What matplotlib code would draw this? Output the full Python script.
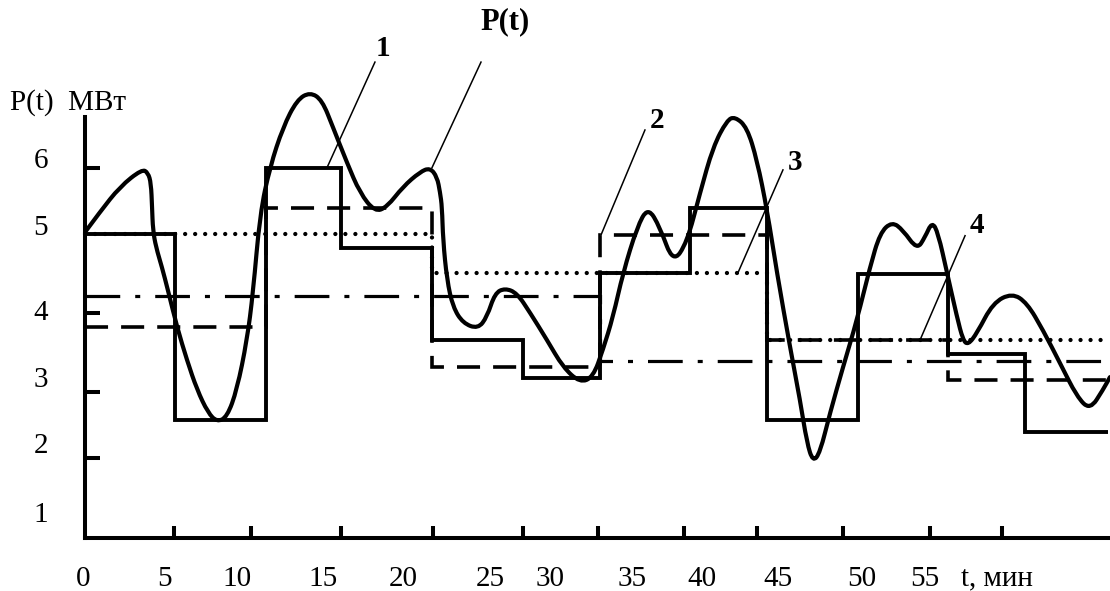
import matplotlib
matplotlib.use("Agg")
import matplotlib.pyplot as plt
from matplotlib.path import Path
from matplotlib.patches import PathPatch

plt.rcParams["font.family"] = ["Liberation Serif", "DejaVu Serif"]
plt.rcParams["lines.scale_dashes"] = False

# P(t) curve, t in min, P in MW
t_curve = [0, 1.0, 2.33, 3.8, 4.2, 4.4, 4.47, 4.53, 4.73, 5.13, 5.53, 6.13, 6.8, 7.47, 8.2, 8.8,
           9.47, 10.13, 10.8, 11.2, 11.67, 12.33, 13.2, 14.13, 15.0, 15.8, 16.53, 17.47, 18.33,
           19.33, 20.13, 21.2, 22.33, 23.0, 23.47, 23.67, 23.8, 23.87, 24.13, 24.53, 25.2, 26.2,
           26.8, 27.33, 28.0, 28.8, 29.67, 30.8, 31.87, 33.0, 33.87, 34.53, 35.2, 35.87, 36.8,
           37.53, 38.33, 39.2, 40.13, 41.0, 41.87, 42.8, 43.33, 44.13, 44.8, 45.47, 46.13, 47.0,
           47.67, 48.13, 48.53, 49.0, 49.67, 50.53, 51.47, 52.33, 53.0, 53.8, 54.53, 55.47, 56.0,
           56.47, 56.87, 57.47, 58.13, 58.53, 58.87, 59.47, 60.53, 61.8, 62.8, 63.87, 65.0, 66.13,
           67.0, 67.87, 68.33]
p_curve = [5.04, 5.33, 5.69, 5.94, 5.89, 5.74, 5.4, 5.07, 4.83, 4.54, 4.21, 3.69, 3.21, 2.79, 2.46,
           2.33, 2.4, 2.79, 3.5, 4.17, 5.31, 5.97, 6.54, 6.93, 7.04, 6.93, 6.54, 6.03, 5.6, 5.33,
           5.4, 5.69, 5.9, 5.96, 5.83, 5.61, 5.4, 4.93, 4.36, 3.97, 3.74, 3.66, 3.83, 4.17, 4.24,
           4.17, 3.89, 3.5, 3.11, 2.89, 2.97, 3.36, 3.83, 4.46, 5.11, 5.4, 5.11, 4.6, 4.89, 5.6,
           6.26, 6.64, 6.69, 6.54, 6.07, 5.36, 4.46, 3.4, 2.64, 2.03, 1.76, 1.89, 2.46, 3.11, 3.79,
           4.54, 5.03, 5.19, 5.07, 4.79, 4.97, 5.19, 5.03, 4.46, 3.83, 3.5, 3.43, 3.6, 4.03, 4.17,
           4.03, 3.64, 3.17, 2.69, 2.5, 2.79, 2.97]

# 1: solid staircase
edges1 = [0, 6.0, 12.07, 17.07, 23.13, 29.2, 34.33, 40.33, 45.47, 51.53, 57.53, 62.67, 68.2]
vals1 = [5.01, 2.36, 5.96, 4.81, 3.5, 2.96, 4.46, 5.39, 2.36, 4.44, 3.3, 2.19]
# 2: dashed
edges2 = [0, 12.07, 23.13, 34.33, 45.47, 57.53, 68.2]
vals2 = [3.69, 5.39, 3.11, 5.0, 3.5, 2.93]
# 3: dotted
edges3 = [0, 23.13, 45.47, 68.2]
vals3 = [5.01, 4.46, 3.5]
# 4: dash-dot
edges4 = [0, 34.33, 68.2]
vals4 = [4.13, 3.2]

x_ticks = [5.93, 11.07, 17.07, 23.2, 29.2, 34.2, 39.93, 44.8, 50.53, 56.33, 61.13]
x_lab_pos = [-0.13, 5.33, 10.13, 15.87, 21.2, 27.0, 31.0, 36.47, 41.13, 46.2, 51.8, 56.0, 60.8]
x_labels = ["0", "5", "10", "15", "20", "25", "30", "35", "40", "45", "50", "55", "t, мин"]
y_ticks = [5.96, 3.89, 2.76, 1.81]
y_lab_pos = [6.1, 5.14, 3.93, 2.97, 2.03, 1.04]
y_labels = ["6", "5", "4", "3", "2", "1"]

fig = plt.figure(figsize=(11.1, 5.91), dpi=100)
ax = fig.add_axes([0, 0, 1, 1])
ax.set_xlim(-5.667, 68.333)
ax.set_ylim(-0.0857, 8.357)

k = "black"
ax.stairs(vals3, edges3, baseline=None, color=k, lw=3.1, linestyle=(0, (0.01, 7.2)), capstyle="round")
ax.stairs(vals4, edges4, baseline=None, color=k, lw=2.3, linestyle=(0, (25, 10.8, 3.6, 10.8)))
ax.stairs(vals2, edges2, baseline=None, color=k, lw=2.6, linestyle=(0, (16.6, 9.4)))
ax.stairs(vals1, edges1, baseline=None, color=k, lw=2.8)

# smooth P(t): read points used as quadratic Bezier control points
pts = list(zip(t_curve, p_curve))
verts = [pts[0]]
codes = [Path.MOVETO]
for i in range(1, len(pts) - 1):
    mid = ((pts[i][0] + pts[i + 1][0]) / 2, (pts[i][1] + pts[i + 1][1]) / 2)
    verts += [pts[i], mid]
    codes += [Path.CURVE3, Path.CURVE3]
verts.append(pts[-1])
codes.append(Path.LINETO)
ax.add_patch(PathPatch(Path(verts, codes), fill=False, ec=k, lw=3.0, joinstyle="round",
                       capstyle="round", zorder=3))

# axes drawn as crossing lines
y0 = 0.671
for s in ["top", "right"]:
    ax.spines[s].set_visible(False)
ax.spines["left"].set_position(("data", 0))
ax.spines["left"].set_bounds(y0, 6.69)
ax.spines["bottom"].set_position(("data", y0))
ax.spines["bottom"].set_bounds(0, 68.2)
for s in ["left", "bottom"]:
    ax.spines[s].set_linewidth(2.9)
    ax.spines[s].set_capstyle("projecting")

ax.set_xticks(x_ticks)
ax.set_xticklabels([])
ax.set_xticks(x_lab_pos, minor=True)
ax.set_xticklabels(x_labels, minor=True, fontsize=21)
ax.set_yticks(y_ticks)
ax.set_yticklabels([])
ax.set_yticks(y_lab_pos, minor=True)
ax.set_yticklabels(y_labels, minor=True, fontsize=21)
ax.tick_params(axis="x", which="major", direction="in", length=8.6, width=2.9)
ax.tick_params(axis="y", which="major", direction="in", length=10.8, width=2.9)
ax.tick_params(axis="x", which="minor", length=0, pad=20)
ax.tick_params(axis="y", which="minor", length=0, pad=32)
for lab in ax.get_yticklabels(minor=True):
    lab.set_horizontalalignment("center")

ax.text(-5.0, 6.89, "P(t)  МВт", fontsize=21, ha="left", va="center")

# leader labels: (text, text pos, leader start, leader tip)
leaders = [
    ("P(t)", (28.0, 8.04), (26.4, 7.47), (23.13, 5.96)),
    ("1", (19.87, 7.67), (19.33, 7.47), (16.13, 5.96)),
    ("2", (38.13, 6.63), (37.33, 6.5), (34.4, 5.0)),
    ("3", (47.33, 6.04), (46.53, 5.93), (43.53, 4.46)),
    ("4", (59.47, 5.13), (58.67, 4.99), (55.67, 3.5)),
]
for txt, tp, a, b in leaders:
    ax.text(tp[0], tp[1], txt, fontsize=21 if txt != "P(t)" else 22, fontweight="bold",
            ha="center", va="center")
    ax.plot([a[0], b[0]], [a[1], b[1]], color=k, lw=1.1)

fig.savefig("out.png", dpi=100)
